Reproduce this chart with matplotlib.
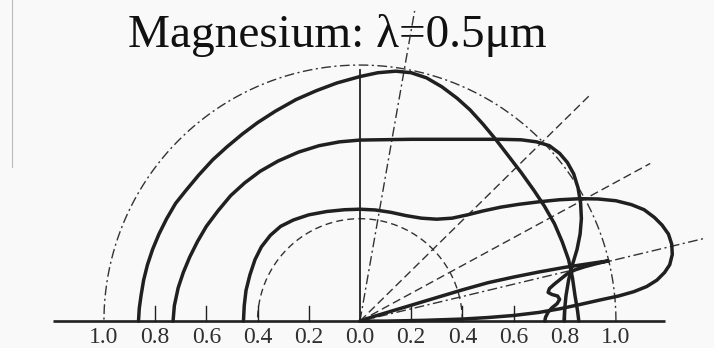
import numpy as np
import matplotlib.pyplot as plt
from matplotlib.lines import Line2D

# Directional emissivity traces, (x, y) in emissivity units.
# x < 0 is the left half of the diagram, y is along the surface normal.
outer_x = [-0.865, -0.862, -0.855, -0.845, -0.83, -0.81, -0.785, -0.755, -0.72, -0.68,
           -0.63, -0.575, -0.52, -0.46, -0.40, -0.33, -0.25, -0.17, -0.09, 0.0, 0.07,
           0.14, 0.20, 0.26, 0.32, 0.38, 0.43, 0.48, 0.53, 0.58, 0.63, 0.68, 0.72, 0.76,
           0.79, 0.815, 0.83, 0.84, 0.85, 0.855]
outer_y = [0.0, 0.05, 0.10, 0.16, 0.22, 0.28, 0.34, 0.40, 0.46, 0.51,
           0.57, 0.63, 0.68, 0.73, 0.775, 0.82, 0.865, 0.90, 0.93, 0.955, 0.97,
           0.976, 0.97, 0.95, 0.915, 0.87, 0.825, 0.77, 0.71, 0.645, 0.58, 0.51, 0.45, 0.38,
           0.31, 0.24, 0.17, 0.10, 0.04, 0.0]

middle_x = [-0.73, -0.725, -0.71, -0.69, -0.665, -0.635, -0.60, -0.555, -0.505, -0.45,
            -0.39, -0.32, -0.24, -0.16, -0.08, 0.0, 0.2, 0.4, 0.55, 0.63, 0.69, 0.74,
            0.78, 0.81, 0.835, 0.852, 0.862, 0.865, 0.86, 0.848, 0.83, 0.815, 0.805,
            0.80, 0.797]
middle_y = [0.0, 0.06, 0.13, 0.19, 0.25, 0.31, 0.37, 0.43, 0.49, 0.54,
            0.585, 0.625, 0.66, 0.685, 0.70, 0.707, 0.71, 0.71, 0.71, 0.708, 0.70, 0.685,
            0.655, 0.62, 0.575, 0.52, 0.46, 0.40, 0.34, 0.28, 0.22, 0.16, 0.10,
            0.05, 0.0]

lobe_x = [-0.455, -0.452, -0.445, -0.43, -0.41, -0.385, -0.35, -0.31, -0.26, -0.20,
          -0.13, -0.06, 0.0, 0.06, 0.12, 0.18, 0.24, 0.30, 0.36, 0.42, 0.48, 0.55,
          0.62, 0.70, 0.78, 0.86, 0.93, 1.00, 1.06, 1.11, 1.15, 1.18, 1.205, 1.218,
          1.22, 1.21, 1.19, 1.16, 1.12, 1.07, 1.01, 0.94, 0.86, 0.78, 0.70, 0.60,
          0.50, 0.40, 0.25, 0.10, 0.0]
lobe_y = [0.0, 0.06, 0.12, 0.18, 0.24, 0.29, 0.335, 0.37, 0.395, 0.415,
          0.428, 0.435, 0.437, 0.434, 0.425, 0.412, 0.402, 0.398, 0.402, 0.415, 0.43, 0.445,
          0.456, 0.466, 0.474, 0.478, 0.477, 0.47, 0.455, 0.435, 0.405, 0.375, 0.34, 0.30,
          0.26, 0.22, 0.19, 0.16, 0.135, 0.115, 0.098, 0.083, 0.065, 0.048, 0.034, 0.022,
          0.014, 0.008, 0.003, 0.0, 0.0]

spike_x = [0.0, 0.05, 0.12, 0.20, 0.30, 0.40, 0.50, 0.60, 0.70, 0.80, 0.88, 0.94,
           0.97, 0.93, 0.88, 0.84, 0.81, 0.785, 0.76, 0.74, 0.735, 0.75, 0.772, 0.78,
           0.77, 0.75, 0.735, 0.725, 0.722]
spike_y = [0.0, 0.017, 0.038, 0.062, 0.092, 0.122, 0.150, 0.172, 0.192, 0.210, 0.222,
           0.231, 0.235, 0.226, 0.213, 0.200, 0.185, 0.165, 0.145, 0.127, 0.112, 0.104,
           0.098, 0.085, 0.068, 0.052, 0.035, 0.015, 0.0]

# reference circles and rays (angle above the surface, degrees)
circle_radii = [1.0, 0.4]
ray_angles = [80, 44.5, 28.5, 13.5]
ray_lengths = [1.23, 1.26, 1.29, 1.38]
ray_styles = ['dashdot', 'dashed', 'dashed', 'dashdot']

tick_values = [-1.0, -0.8, -0.6, -0.4, -0.2, 0.0, 0.2, 0.4, 0.6, 0.8, 1.0]
tick_labels = ['1.0', '0.8', '0.6', '0.4', '0.2', '0.0', '0.2', '0.4', '0.6', '0.8', '1.0']

plt.rcParams['font.family'] = ['Liberation Serif', 'DejaVu Serif']

fig = plt.figure(figsize=(7.14, 3.48), dpi=100)
fig.patch.set_facecolor('#f9f9f9')
ax = fig.add_axes([0, 0, 1, 1])
ax.set_facecolor('#f9f9f9')
ax.set_xlim(-1.406, 1.383)
ax.set_ylim(-0.105, 1.254)
ax.axis('off')

ink = '#202020'
dash_dot = (0, (7, 2.5, 1.5, 2.5))
dash = (0, (5, 3))

# upper half circles
phi = np.linspace(0, np.pi, 300)
ax.plot(circle_radii[0] * np.cos(phi), circle_radii[0] * np.sin(phi),
        color='#333333', lw=1.0, ls=dash_dot, zorder=2)
ax.plot(circle_radii[1] * np.cos(phi), circle_radii[1] * np.sin(phi),
        color='#333333', lw=1.0, ls=dash, zorder=2)

for ang, length, style in zip(ray_angles, ray_lengths, ray_styles):
    a = np.radians(ang)
    ls = dash_dot if style == 'dashdot' else (0, (6, 3))
    ax.plot([0, length * np.cos(a)], [0, length * np.sin(a)],
            color='#333333', lw=1.0, ls=ls, zorder=2)

# axes of the diagram
ax.plot([-1.2, 1.19], [0, 0], color=ink, lw=1.9, zorder=3, solid_capstyle='butt')
ax.plot([0, 0], [0, 0.98], color=ink, lw=1.3, zorder=3)
for v in tick_values:
    if v != 0.0 and abs(v) < 1.0:
        ax.plot([v, v], [0, 0.06], color=ink, lw=1.0, zorder=3)
for v, lab in zip(tick_values, tick_labels):
    ax.text(v, -0.064, lab, ha='center', va='center', fontsize=17, color='#303030')

# emissivity curves
for xs, ys in [(outer_x, outer_y), (middle_x, middle_y), (lobe_x, lobe_y), (spike_x, spike_y)]:
    ax.plot(xs, ys, color=ink, lw=2.5, zorder=4,
            solid_joinstyle='round', solid_capstyle='round')

ax.text(-0.906, 1.07, 'Magnesium: λ=0.5μm', ha='left', va='baseline',
        fontsize=34, color='#111111', zorder=1)

# page edge on the left
fig.add_artist(Line2D([12 / 714, 12 / 714], [1, 1 - 167 / 348],
                      transform=fig.transFigure, color='#bbbbbb', lw=0.8))

fig.savefig('out.png', dpi=100, facecolor=fig.get_facecolor())
